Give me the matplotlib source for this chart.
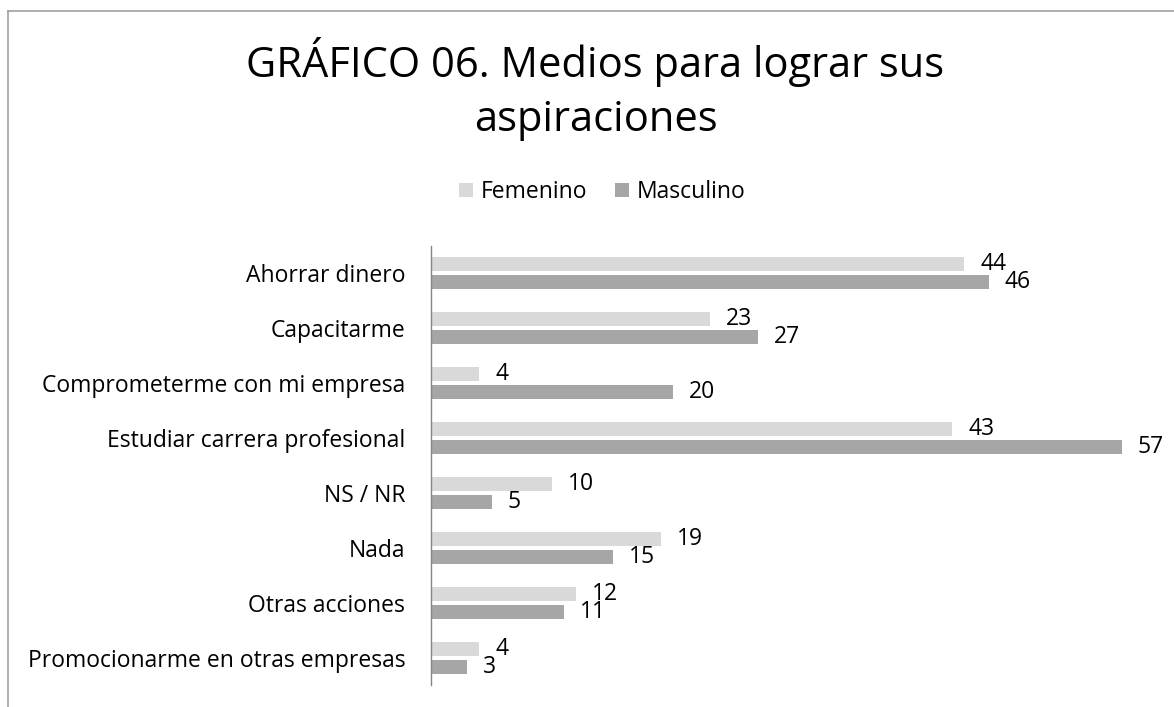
import matplotlib
matplotlib.use("Agg")
import matplotlib.pyplot as plt
import numpy as np
from matplotlib.lines import Line2D
from matplotlib.patches import Patch

categories = ["Ahorrar dinero", "Capacitarme", "Comprometerme con mi empresa",
              "Estudiar carrera profesional", "NS / NR", "Nada", "Otras acciones",
              "Promocionarme en otras empresas"]
femenino = [44, 23, 4, 43, 10, 19, 12, 4]
masculino = [46, 27, 20, 57, 5, 15, 11, 3]
title_lines = ["GRÁFICO 06. Medios para lograr sus", "aspiraciones"]

plt.rcParams['font.family'] = ['Open Sans', 'DejaVu Sans']

W, H = 1174, 707
fig = plt.figure(figsize=(W/100, H/100), dpi=100)
ax_left, ax_right = 431, 1162
ax = fig.add_axes([ax_left/W, 1-685/H, (ax_right-ax_left)/W, (685-246)/H])

c_f = "#d9d9d9"
c_m = "#a6a6a6"
y = np.arange(len(categories))
off = 9.0/54.8
bh = 14/54.8
ax.barh(y - off, femenino, height=bh, color=c_f)
ax.barh(y + off, masculino, height=bh, color=c_m)

fs = 16.5
for yi, v in zip(y, femenino):
    ax.annotate(str(v), (v, yi - off), xytext=(11.5, 0), textcoords="offset points",
                va="center", ha="left", fontsize=fs, color="#000000")
for yi, v in zip(y, masculino):
    ax.annotate(str(v), (v, yi + off), xytext=(11.5, 0), textcoords="offset points",
                va="center", ha="left", fontsize=fs, color="#000000")

ax.set_xlim(0, (ax_right - ax_left) / 12.12)
ax.set_ylim(len(categories) - 0.5, -0.5)
ax.set_yticks(y)
ax.set_yticklabels(categories, fontsize=fs)
ax.tick_params(axis='y', length=0, pad=18.5)
ax.set_xticks([])
for s in ["top", "right", "bottom"]:
    ax.spines[s].set_visible(False)
ax.spines["left"].set_color("#868686")
ax.spines["left"].set_linewidth(1)

fig.text(595.5/W, 1-77/H, title_lines[0], ha="center", va="baseline", fontsize=30)
fig.text(596/W, 1-131/H, title_lines[1], ha="center", va="baseline", fontsize=30)

handles = [Patch(facecolor=c_f, label="Femenino"), Patch(facecolor=c_m, label="Masculino")]
fig.legend(handles=handles, loc="center", bbox_to_anchor=(602/W, 1-192/H), ncol=2,
           frameon=False, fontsize=fs, handlelength=0.61, handleheight=0.61,
           handletextpad=0.35, columnspacing=1.2, borderpad=0)

# chart border (top and left visible)
fig.add_artist(Line2D([8/W, 1], [1-11/H, 1-11/H], color="#a0a0a0", lw=1.2, transform=fig.transFigure))
fig.add_artist(Line2D([8/W, 8/W], [0, 1-11/H], color="#a0a0a0", lw=1.2, transform=fig.transFigure))

fig.savefig("out.png", dpi=100, facecolor="white")
